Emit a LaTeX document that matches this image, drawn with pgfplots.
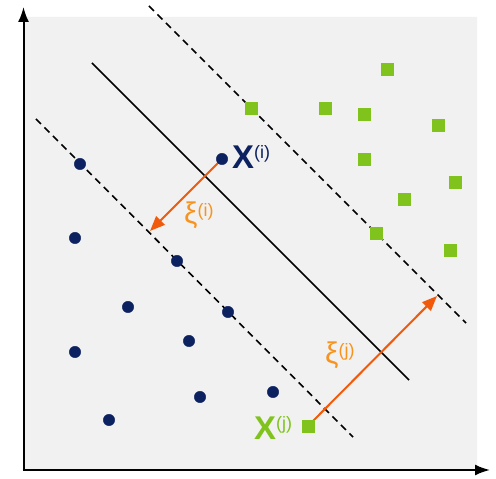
\documentclass[border=0pt]{standalone}
\usepackage{pgfplots}
\pgfplotsset{compat=1.18}
\usepackage{fontspec}
\setmainfont{Liberation Sans}
\usetikzlibrary{arrows.meta}
\definecolor{bggray}{HTML}{F1F1F1}
\definecolor{navy}{HTML}{0C2160}
\definecolor{sqgreen}{HTML}{7FC31C}
\definecolor{arrorange}{HTML}{F05A0A}
\definecolor{txtorange}{HTML}{F7931E}

\begin{document}
\begin{tikzpicture}
\begin{axis}[
  xmin=0, xmax=496, ymin=0, ymax=479,
  width=496bp, height=479bp, scale only axis,
  hide axis, clip=false]
% frame of the picture
\addplot[draw=none] coordinates {(0,0)(496,479)};
% gray background
\addplot[fill=bggray, draw=none] coordinates {(24,9)(477,9)(477,462)(24,462)(24,9)};
% axes
\addplot[black, line width=2bp, -{Latex[length=15bp,width=11bp]}] coordinates {(22.5,9)(490,9)};
\addplot[black, line width=2bp, -{Latex[length=15bp,width=11bp]}] coordinates {(23.5,9)(23.5,472)};
% separating line and margins
\addplot[black, line width=1.6bp] coordinates {(92,416)(409,99)};
\addplot[black, line width=1.6bp, dash pattern=on 7bp off 5bp] coordinates {(149,473)(466,156)};
\addplot[black, line width=1.6bp, dash pattern=on 7bp off 5bp] coordinates {(36,360)(353,42)};
% slack arrows
\addplot[arrorange, line width=2bp, -{Triangle[length=15bp,width=12bp]}] coordinates {(222,320)(150,248)};
\addplot[arrorange, line width=2bp, -{Triangle[length=15bp,width=12bp]}] coordinates {(308,53)(437,183)};
% class -1
\addplot[only marks, mark=*, mark size=5.7bp, mark options={fill=navy, draw=navy}] coordinates {
  (80,315)(75,241)(177,218)(128,172)(228,167)(75,127)(189,138)(200,82)(273,87)(109,59)(222,320)};
% class +1
\addplot[only marks, mark=square*, mark size=6bp, mark options={fill=sqgreen, draw=sqgreen}] coordinates {
  (251,371)(325,371)(387,410)(364,365)(438,354)(364,320)(455,297)(404,280)(376,246)(450,229)(308,53)};
% labels
\node[anchor=base west, inner sep=0, text=navy] at (axis cs:232,310)
  {\fontsize{33}{33}\selectfont\bfseries X\raisebox{10bp}{\fontsize{18}{18}\selectfont\mdseries(i)}};
\node[anchor=base west, inner sep=0, text=sqgreen] at (axis cs:254,39)
  {\fontsize{33}{33}\selectfont\bfseries X\raisebox{10bp}{\fontsize{18}{18}\selectfont\mdseries(j)}};
\node[anchor=base west, inner sep=0, text=txtorange] at (axis cs:184,255)
  {\fontsize{30}{30}\selectfont ξ\raisebox{7bp}{\fontsize{18}{18}\selectfont(i)}};
\node[anchor=base west, inner sep=0, text=txtorange] at (axis cs:325,115)
  {\fontsize{30}{30}\selectfont ξ\raisebox{7bp}{\fontsize{18}{18}\selectfont(j)}};
\end{axis}
\end{tikzpicture}
\end{document}
